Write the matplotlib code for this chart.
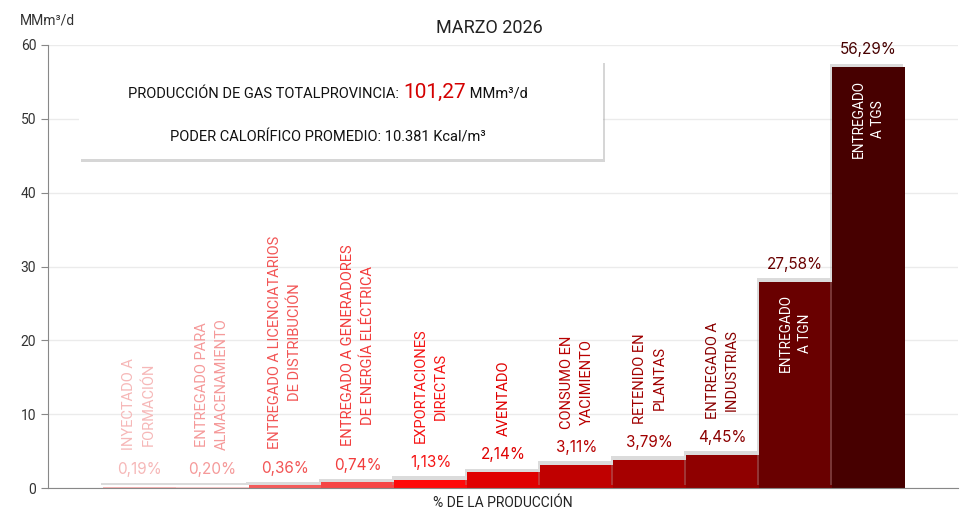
import numpy as np
import matplotlib.pyplot as plt
import matplotlib.patheffects as pe
from matplotlib.patches import FancyBboxPatch
from matplotlib.offsetbox import TextArea, HPacker, AnchoredOffsetbox

# Datos (MMm³/d)
categorias = [
    "INYECTADO A\nFORMACIÓN",
    "ENTREGADO PARA\nALMACENAMIENTO",
    "ENTREGADO A LICENCIATARIOS\nDE DISTRIBUCIÓN",
    "ENTREGADO A GENERADORES\nDE ENERGÍA ELÉCTRICA",
    "EXPORTACIONES\nDIRECTAS",
    "AVENTADO",
    "CONSUMO EN\nYACIMIENTO",
    "RETENIDO EN\nPLANTAS",
    "ENTREGADO A\nINDUSTRIAS",
    "ENTREGADO\nA TGN",
    "ENTREGADO\nA TGS",
]
valores = [0.19, 0.20, 0.36, 0.75, 1.14, 2.17, 3.15, 3.84, 4.51, 27.93, 57.00]
porcentajes = ["0,19%", "0,20%", "0,36%", "0,74%", "1,13%", "2,14%",
               "3,11%", "3,79%", "4,45%", "27,58%", "56,29%"]
colores = ["#f7b4b4", "#f8c8c8", "#f45a5a", "#f54646", "#ff0a0a", "#e00000",
           "#c00000", "#a60000", "#8f0000", "#690000", "#470000"]
colores_texto = ["#f6b8b8", "#f59a9a", "#f25656", "#f23c3c", "#f51414", "#e00000",
                 "#b80000", "#a00000", "#8a0000", "#690000", "#470000"]

titulo = "MARZO 2026"
produccion_total = "101,27"
poder_calorifico = "10.381"

plt.rcParams['font.family'] = ['Roboto', 'DejaVu Sans']

fig = plt.figure(figsize=(9.78, 5.16), dpi=100)
ax = fig.add_axes([48/978, 28/516, 910/978, 443/516])

x = np.arange(len(valores))
barras = ax.bar(x, valores, width=1.0, color=colores, zorder=2)
for b in barras:
    b.set_path_effects([pe.SimplePatchShadow(offset=(-1.5, 2.5), shadow_rgbFace='0.6', alpha=0.35),
                        pe.Normal()])

ax.set_xlim(-1.25, 11.23)
ax.set_ylim(0, 60)
ax.set_yticks(range(0, 61, 10))
ax.set_xticks([])
ax.tick_params(axis='y', labelsize=10, colors='#333333', length=5, color='#888888')
ax.grid(axis='y', color='#ebebeb', linewidth=1, zorder=0)
ax.set_axisbelow(True)
for s in ['top', 'right']:
    ax.spines[s].set_visible(False)
ax.spines['left'].set_color('#888888')
ax.spines['bottom'].set_color('#888888')
ax.set_xlabel("% DE LA PRODUCCIÓN", fontsize=10, color='#222222', labelpad=6)

for i, (v, p, c, cat) in enumerate(zip(valores, porcentajes, colores_texto, categorias)):
    ax.annotate(p, (i, v), xytext=(0, 7), textcoords='offset points',
                ha='center', va='bottom', fontsize=11, family=['Inter', 'DejaVu Sans'],
                color=c, zorder=4)
    if v > 20:
        ax.annotate(cat, (i, v), xytext=(0, -9), textcoords='offset points',
                    ha='center', va='top', rotation=90, fontsize=9.8,
                    color='white', linespacing=1.5, zorder=4)
    else:
        ax.annotate(cat, (i, v), xytext=(0, 26), textcoords='offset points',
                    ha='center', va='bottom', rotation=90, fontsize=10.5,
                    color=c, linespacing=1.5, zorder=4)

fig.text(0.5, 0.945, titulo, ha='center', va='center', fontsize=13, color='#222222')
fig.text(20/978, 0.96, "MMm³/d", ha='left', va='center', fontsize=10, color='#333333')

# Recuadro informativo
caja = FancyBboxPatch((79/978, (516-159)/516), 524/978, 99/516,
                      boxstyle='square,pad=0', transform=fig.transFigure,
                      facecolor='white', edgecolor='none', zorder=5)
caja.set_path_effects([pe.SimplePatchShadow(offset=(1.5, -2.5), shadow_rgbFace='0.55', alpha=0.35),
                       pe.Normal()])
fig.patches.append(caja)

linea1 = HPacker(children=[
    TextArea("PRODUCCIÓN DE GAS TOTALPROVINCIA: ", textprops=dict(fontsize=10.5, color='#111111')),
    TextArea(produccion_total, textprops=dict(fontsize=15, color='#d40000')),
    TextArea(" MMm³/d", textprops=dict(fontsize=10.5, color='#111111')),
], align='baseline', pad=0, sep=0)
ab1 = AnchoredOffsetbox(loc='center', child=linea1, frameon=False, pad=0,
                        bbox_to_anchor=(328/978, (516-92)/516), bbox_transform=fig.transFigure)
ab1.set_zorder(6)
fig.add_artist(ab1)

fig.text(328/978, (516-138)/516, "PODER CALORÍFICO PROMEDIO: " + poder_calorifico + " Kcal/m³",
         ha='center', va='center', fontsize=10.5, color='#111111', zorder=6)

fig.savefig("out.png", dpi=100)
